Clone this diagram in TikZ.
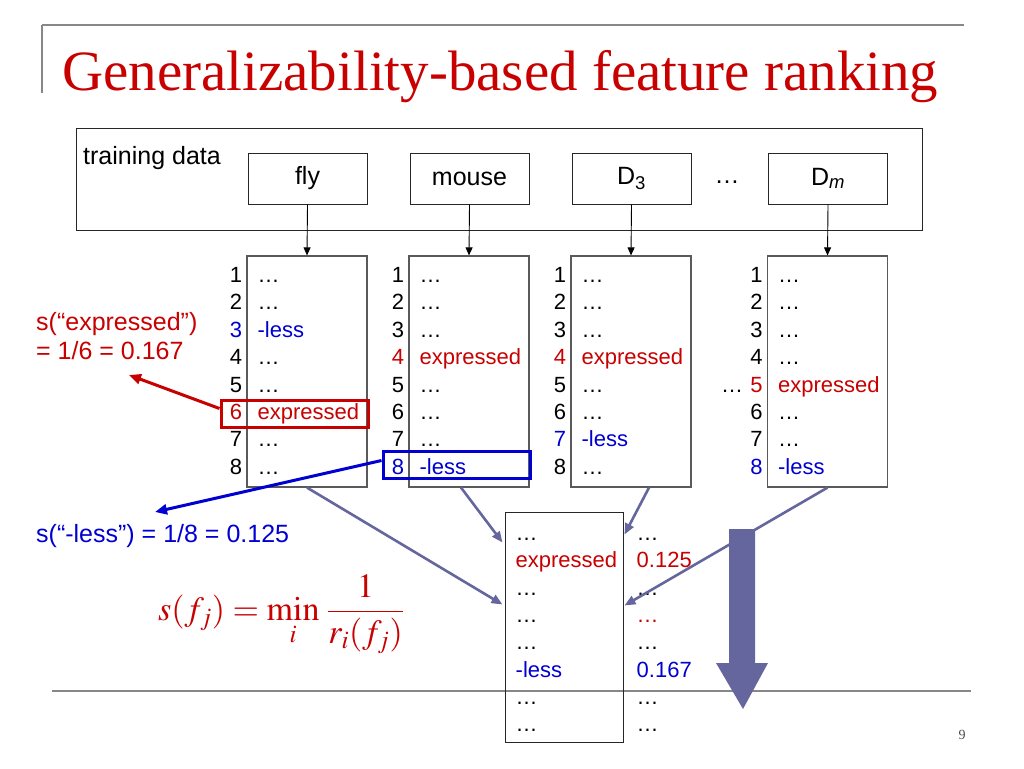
\documentclass[tikz,border=0pt]{standalone}
\usepackage{mathptmx}
\usepackage{fontspec}
\setmainfont{Liberation Sans}
\newfontfamily\titlefont{Liberation Serif}
\usetikzlibrary{arrows.meta,calc}
\definecolor{tred}{RGB}{200,0,0}
\definecolor{tblue}{RGB}{0,0,210}
\definecolor{slate}{RGB}{102,102,158}
\definecolor{rule}{RGB}{135,135,135}
\definecolor{boxgray}{RGB}{90,90,90}
\tikzset{
  lbl/.style={font=\fontsize{25}{30}\selectfont, inner sep=0pt},
  row/.style={font=\fontsize{22}{26}\selectfont, inner sep=0pt},
  dbox/.style={draw=black!85, line width=1pt, minimum width=119pt, minimum height=51pt, inner sep=0pt, font=\fontsize{25}{30}\selectfont},
  lbox/.style={draw=boxgray, line width=1.2pt, minimum width=120pt, minimum height=231pt, inner sep=0pt},
  feed/.style={-{Triangle[length=8pt,width=7pt]}, line width=0.9pt, black},
  merge/.style={-{Triangle[length=11pt,width=9pt]}, line width=2.6pt, slate},
  hl/.style={line width=3pt, minimum width=147pt, minimum height=27pt, inner sep=0pt},
}
\newcommand{\dts}{…}
\begin{document}
\begin{tikzpicture}[x=1pt,y=-1pt]
\useasboundingbox[fill=white] (0,0) rectangle (1024,768);
% slide frame lines
\draw[rule, line width=2.2pt] (42,25) -- (964,25);
\draw[rule, line width=1.5pt] (42,25) -- (42,93);
\draw[rule, line width=2.2pt] (52,691) -- (971,691);
% title
\node[anchor=base west, inner sep=0pt, text=tred] (title) at (62,90)
  {\resizebox{876pt}{!}{\titlefont\fontsize{54}{60}\selectfont Generalizability-based feature ranking}};
% training data
\node[draw=black!85, line width=1pt, minimum width=846pt, minimum height=102pt, inner sep=0pt] (train) at (499,179) {};
\node[lbl, anchor=base west] (tdlabel) at (83,164) {training data};
\node[dbox] (fly) at (307.5,178.5) {fly};
\node[dbox] (mouse) at (469.5,178.5) {mouse};
\node[dbox] (d3) at (631.5,178.5) {D\textsubscript{3}};
\node[lbl] (ddots) at (727,182) {\dts};
\node[dbox] (dm) at (828,178.5) {D\textsubscript{\itshape m}};
% ranked lists
\node[lbox] (L1) at (307,371.5) {};
\node[lbox] (L2) at (469,371.5) {};
\node[lbox] (L3) at (631,371.5) {};
\node[lbox] (L4) at (827.5,371.5) {};
\draw[feed] (fly.south) -- (L1.north);
\draw[feed] (mouse.south) -- (L2.north);
\draw[feed] (d3.south) -- (L3.north);
\draw[feed] (dm.south) -- (L4.north);
% rows
\foreach \L/\items in {
  L1/{black/\dts,black/\dts,tblue/-less,black/\dts,black/\dts,tred/expressed,black/\dts,black/\dts},
  L2/{black/\dts,black/\dts,black/\dts,tred/expressed,black/\dts,black/\dts,black/\dts,tblue/-less},
  L3/{black/\dts,black/\dts,black/\dts,tred/expressed,black/\dts,black/\dts,tblue/-less,black/\dts},
  L4/{black/\dts,black/\dts,black/\dts,black/\dts,tred/expressed,black/\dts,black/\dts,tblue/-less}}{
  \foreach \c/\t [count=\k] in \items {
    \node[row, anchor=base east, text=\c] (\L n\k) at ($(\L.north west)+(-4,27+27.4*\k-27.4)$) {\k};
    \node[row, anchor=base west, text=\c] (\L t\k) at ($(\L.north west)+(11,27+27.4*\k-27.4)$) {\t};
  }
}
\node[row, anchor=base east] (l4dots) at ($(L4n5.base west)+(-7,0)$) {\dts};
% highlight boxes
\node[hl, draw=tred] (redbox) at (294.5,413.5) {};
\node[hl, draw=tblue] (bluebox) at (456.5,464.5) {};
\coordinate (redtip) at (129,375);
\coordinate (bluetip) at (155,512);
\draw[-{Triangle[length=12pt,width=10pt]}, line width=3pt, tred] ($(redbox.west)+(0,-5)$) -- (redtip);
\draw[-{Triangle[length=12pt,width=10pt]}, line width=3pt, tblue] ($(bluebox.west)+(0,-4)$) -- (bluetip);
\node[lbl, anchor=base west, text=tred] (sexp1) at (36,330) {s(“expressed”)};
\node[lbl, anchor=base west, text=tred] (sexp2) at (36,359) {= 1/6 = 0.167};
\node[lbl, anchor=base west, text=tblue] (sless) at (36,542) {s(“-less”) = 1/8 = 0.125};
% result list
\node[draw=black!85, line width=1pt, minimum width=118pt, minimum height=230pt, inner sep=0pt] (R) at (564,627) {};
\foreach \c/\t/\d/\v [count=\k] in {black/\dts/black/\dts, tred/expressed/tred/0.125, black/\dts/black/\dts, black/\dts/tred/\dts, black/\dts/black/\dts, tblue/-less/tblue/0.167, black/\dts/black/\dts, black/\dts/black/\dts}{
  \node[row, anchor=base west, text=\c] (Rt\k) at ($(R.north west)+(11,29+27.3*\k-27.3)$) {\t};
  \node[row, anchor=base west, text=\d] (Rv\k) at ($(R.north east)+(13,29+27.3*\k-27.3)$) {\v};
}
% merge arrows
\coordinate (m1) at ($(R.north west)+(-2,93)$);
\coordinate (m2) at ($(R.north west)+(-2,31)$);
\coordinate (m3) at ($(R.north east)+(1,23)$);
\coordinate (m4) at ($(R.north east)+(1,94)$);
\draw[merge] (L1.south) -- (m1);
\draw[merge] ($(L2.south)+(-8,0)$) -- (m2);
\draw[merge] ($(L3.south)+(18,0)$) -- (m3);
\draw[merge] (L4.south) -- (m4);
% big downward arrow
\fill[slate] (729,529) -- (755,529) -- (755,663) -- (768,663) -- (743,709) -- (716,663) -- (729,663) -- cycle;
% formula
\node[anchor=west, inner sep=0pt, text=tred, font=\fontsize{34}{40}\selectfont] (formula) at (158,614)
  {$\displaystyle s(f_j) = \min_i\,\frac{1}{r_i(f_j)}$};
% page number
\node[inner sep=0pt, font=\titlefont\fontsize{14}{16}\selectfont, text=black!70] (pnum) at (962,735) {9};
\end{tikzpicture}
\end{document}
